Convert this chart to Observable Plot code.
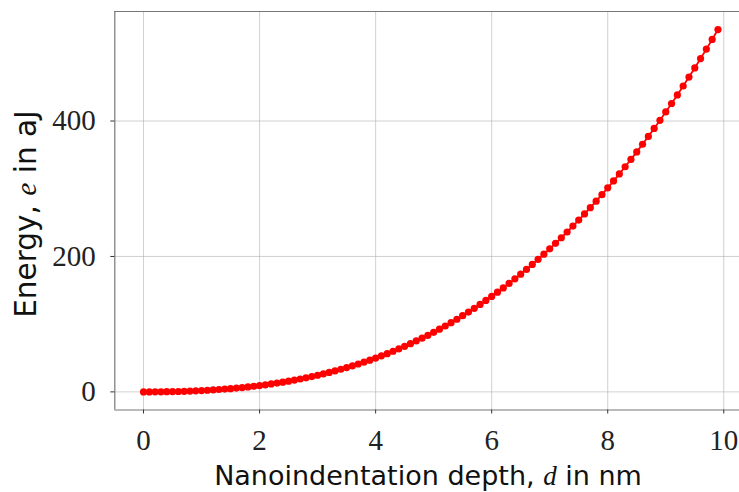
<!DOCTYPE html>
<html>
<head>
<meta charset="utf-8">
<script src="https://cdn.jsdelivr.net/npm/d3@7"></script>
<script src="https://cdn.jsdelivr.net/npm/@observablehq/plot@0.6"></script>
<style>
  html, body { margin: 0; padding: 0; background: #fff; }
  #chart { width: 739px; height: 492px; }
</style>
</head>
<body>
<div id="chart"></div>
<script>
// Nanoindentation depth d (nm) (0 to 9.9 step 0.1)
const depth = [
  0.0,0.1,0.2,0.3,0.4,0.5,0.6,0.7,0.8,0.9,
  1.0,1.1,1.2,1.3,1.4,1.5,1.6,1.7,1.8,1.9,
  2.0,2.1,2.2,2.3,2.4,2.5,2.6,2.7,2.8,2.9,
  3.0,3.1,3.2,3.3,3.4,3.5,3.6,3.7,3.8,3.9,
  4.0,4.1,4.2,4.3,4.4,4.5,4.6,4.7,4.8,4.9,
  5.0,5.1,5.2,5.3,5.4,5.5,5.6,5.7,5.8,5.9,
  6.0,6.1,6.2,6.3,6.4,6.5,6.6,6.7,6.8,6.9,
  7.0,7.1,7.2,7.3,7.4,7.5,7.6,7.7,7.8,7.9,
  8.0,8.1,8.2,8.3,8.4,8.5,8.6,8.7,8.8,8.9,
  9.0,9.1,9.2,9.3,9.4,9.5,9.6,9.7,9.8,9.9
];
// Energy e (aJ)
const energy = [
  0.0,0.0,0.1,0.1,0.3,0.4,0.6,0.9,1.2,1.5,
  1.9,2.4,2.9,3.5,4.1,4.8,5.6,6.4,7.3,8.3,
  9.3,10.5,11.7,13.0,14.4,15.8,17.4,19.0,20.8,22.6,
  24.6,26.6,28.8,31.0,33.4,35.9,38.5,41.2,44.0,46.9,
  50.0,53.2,56.5,60.0,63.6,67.3,71.2,75.2,79.3,83.6,
  88.0,92.6,97.3,102.2,107.3,112.5,117.9,123.4,129.1,135.0,
  141.0,147.2,153.6,160.2,166.9,173.8,180.9,188.2,195.7,203.4,
  211.3,219.4,227.6,236.1,244.8,253.7,262.8,272.1,281.6,291.3,
  301.3,311.5,321.9,332.5,343.3,354.4,365.7,377.3,389.1,401.1,
  413.4,425.9,438.6,451.7,464.9,478.4,492.2,506.2,520.5,535.1
];
const xTicks = [0, 2, 4, 6, 8, 10];
const yTicks = [0, 200, 400];
const xLabelParts = ["Nanoindentation depth, ", "d", " in nm"];
const yLabelParts = ["Energy, ", "e", " in aJ"];

const data = depth.map((d, i) => ({d, e: energy[i]}));

const W = 739, H = 492;
const mL = 114.3, mT = 11, mB = 82.5;
const xDom = [-0.495, 10.395], yDom = [-26.75, 561.75];

const serif = "'Liberation Serif', 'DejaVu Serif', serif";
const sans = "'DejaVu Sans', sans-serif";

const chart = Plot.plot({
  width: W,
  height: H,
  marginLeft: mL,
  marginTop: mT,
  marginBottom: mB,
  marginRight: 0,
  style: {background: "#fff", color: "#222", overflow: "hidden"},
  x: {domain: xDom, range: [mL, 746.2]},
  y: {domain: yDom, range: [H - mB, mT]},
  marks: [
    Plot.gridX(xTicks, {stroke: "#b0b0b0", strokeOpacity: 0.6, strokeWidth: 1}),
    Plot.gridY(yTicks, {stroke: "#b0b0b0", strokeOpacity: 0.6, strokeWidth: 1}),
    Plot.ruleX([xDom[0]], {stroke: "#777", strokeWidth: 1.2}),
    Plot.ruleY([yDom[0], yDom[1]], {stroke: "#777", strokeWidth: 1.2}),
    Plot.axisX(xTicks, {anchor: "bottom", tickSize: 4, tickPadding: 15, fontSize: 29, fontFamily: serif, label: null, stroke: "#333", fill: "#222"}),
    Plot.axisY(yTicks, {anchor: "left", tickSize: 4, tickPadding: 15, fontSize: 29, fontFamily: serif, label: null, stroke: "#333", fill: "#222"}),
    Plot.line(data, {x: "d", y: "e", stroke: "red", strokeWidth: 1.8}),
    Plot.dot(data, {x: "d", y: "e", r: 3.6, fill: "red", stroke: "none"})
  ]
});

document.getElementById("chart").appendChild(chart);

const svg = d3.select(chart);
function addLabel(parts, x, y, rotate, size) {
  const t = svg.append("text")
    .attr("transform", `translate(${x},${y}) rotate(${rotate})`)
    .attr("text-anchor", "middle")
    .attr("font-family", sans)
    .attr("font-size", size)
    .attr("fill", "#111");
  t.append("tspan").text(parts[0]);
  t.append("tspan").attr("font-family", serif).attr("font-style", "italic").text(parts[1]);
  t.append("tspan").text(parts[2]);
}
addLabel(xLabelParts, 428, 485, 0, 27);
addLabel(yLabelParts, 36, 214, -90, 29.5);
</script>
</body>
</html>
